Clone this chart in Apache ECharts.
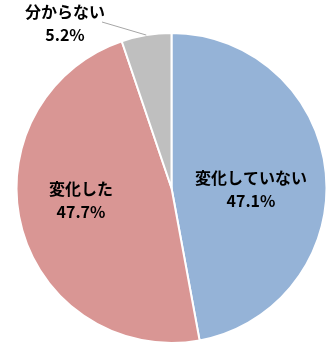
<!DOCTYPE html>
<html><head><meta charset="utf-8">
<script src="https://cdn.jsdelivr.net/npm/echarts@6/dist/echarts.min.js"></script>
<style>html,body{margin:0;padding:0;background:#fff}#c{width:332px;height:350px}</style>
</head><body><div id="c"></div>
<script>
const categories = ['変化していない', '変化した', '分からない'];
const values = [47.1, 47.7, 5.2];
const colors = ['#95B3D7', '#D99694', '#BFBFBF'];
const labelPos = [[251, 189], [81, 200], [65, 23]];
const CX = 171.5, CY = 188, R = 155;

const total = values.reduce((a, b) => a + b, 0);
function edgePoint(i) {
  let before = 0;
  for (let k = 0; k < i; k++) before += values[k];
  const mid = (90 - (before + values[i] / 2) / total * 360) * Math.PI / 180;
  return [CX + R * Math.cos(mid), CY - R * Math.sin(mid)];
}
const e2 = edgePoint(2);

const chart = echarts.init(document.getElementById('c'));
chart.setOption({
  animation: false,
  graphic: [{
    type: 'line', z: 100,
    shape: { x1: e2[0], y1: e2[1], x2: 102, y2: 22 },
    style: { stroke: '#A6A6A6', lineWidth: 1 }
  }],
  series: [{
    type: 'pie',
    center: [CX, CY],
    radius: [0, R],
    startAngle: 90,
    clockwise: true,
    data: categories.map((n, i) => ({
      name: n, value: values[i],
      itemStyle: { color: colors[i] },
      label: i === 2 ? { position: 'outside' } : { position: 'inside' },
      labelLine: { show: false }
    })),
    itemStyle: { borderColor: '#fff', borderWidth: 2 },
    label: {
      formatter: p => p.name + '\n' + p.value.toFixed(1) + '%',
      fontFamily: '"Noto Sans CJK JP", sans-serif',
      fontWeight: 'bold',
      fontSize: 16,
      lineHeight: 23,
      color: '#000',
      align: 'center'
    },
    labelLayout: p => ({ x: labelPos[p.dataIndex][0], y: labelPos[p.dataIndex][1], align: 'center', verticalAlign: 'middle' })
  }]
});
</script></body></html>
